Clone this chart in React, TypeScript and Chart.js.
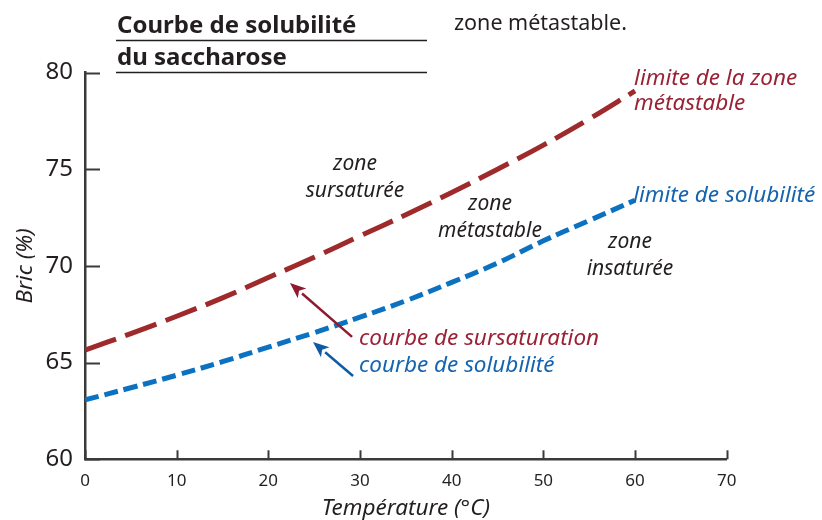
import { useEffect, useRef } from "react";
import { Chart, registerables } from "chart.js";

Chart.register(...registerables);

// ---- data ----
const temperatures = [0, 5, 10, 15, 20, 25, 30, 35, 40, 45, 50, 55, 60];
const sursaturation = [65.65, 66.5, 67.4, 68.35, 69.4, 70.45, 71.55, 72.65, 73.8, 75.0, 76.25, 77.6, 79.05];
const solubilite = [63.07, 63.7, 64.35, 65.05, 65.8, 66.55, 67.35, 68.2, 69.15, 70.15, 71.3, 72.35, 73.4];
const xTicks = [0, 10, 20, 30, 40, 50, 60, 70];
const yTicks = [60, 65, 70, 75, 80];

const RED = "#9e2a2b";
const BLUE = "#0b72c2";
const RED_TXT = "#9a2236";
const BLUE_TXT = "#1564b0";
const DARK = "#231f20";
const AXIS = "#3a3a3a";

const ZONE_FONT = "italic 21px 'Noto Sans'";
const LABEL_FONT = "italic 22.5px 'Noto Sans'";
const AXIS_TITLE_FONT = "italic 22.5px 'Noto Sans'";

// annotations (data coordinates)
const texts = [
  { t: "zone", x: 29.45, y: 74.97, align: "center", color: DARK, font: ZONE_FONT },
  { t: "sursaturée", x: 29.45, y: 73.57, align: "center", color: DARK, font: ZONE_FONT },
  { t: "zone", x: 44.18, y: 72.9, align: "center", color: DARK, font: ZONE_FONT },
  { t: "métastable", x: 44.18, y: 71.52, align: "center", color: DARK, font: ZONE_FONT },
  { t: "zone", x: 59.45, y: 70.93, align: "center", color: DARK, font: ZONE_FONT },
  { t: "insaturée", x: 59.45, y: 69.53, align: "center", color: DARK, font: ZONE_FONT },
  { t: "limite de la zone", x: 59.9, y: 79.36, align: "left", color: RED_TXT, font: LABEL_FONT },
  { t: "métastable", x: 59.9, y: 78.07, align: "left", color: RED_TXT, font: LABEL_FONT },
  { t: "limite de solubilité", x: 59.8, y: 73.33, align: "left", color: BLUE_TXT, font: LABEL_FONT },
  { t: "courbe de sursaturation", x: 29.9, y: 65.91, align: "left", color: RED_TXT, font: LABEL_FONT },
  { t: "courbe de solubilité", x: 29.9, y: 64.52, align: "left", color: BLUE_TXT, font: LABEL_FONT },
];

const arrows = [
  { x0: 29.13, y0: 66.33, x1: 22.36, y1: 69.12, color: "#8e1b30" },
  { x0: 29.24, y0: 64.31, x1: 24.87, y1: 66.07, color: "#0d5aa7" },
];

const overlay = {
  id: "overlay",
  afterDraw(chart: any) {
    const ctx = chart.ctx as CanvasRenderingContext2D;
    const xs = chart.scales.x;
    const ys = chart.scales.y;
    const { left, right, top, bottom } = chart.chartArea;
    ctx.save();

    // inward ticks
    ctx.strokeStyle = AXIS;
    ctx.lineWidth = 2;
    yTicks.forEach((v) => {
      const py = Math.round(ys.getPixelForValue(v)) + 0.5;
      ctx.beginPath();
      ctx.moveTo(left, py);
      ctx.lineTo(left + 15, py);
      ctx.stroke();
    });
    xTicks.forEach((v) => {
      const px = Math.round(xs.getPixelForValue(v)) + 0.5;
      ctx.beginPath();
      ctx.moveTo(px, bottom);
      ctx.lineTo(px, bottom - 9);
      ctx.stroke();
    });

    // title block
    ctx.fillStyle = DARK;
    ctx.textAlign = "left";
    ctx.textBaseline = "alphabetic";
    ctx.font = "bold 24px 'Noto Sans'";
    ctx.fillText("Courbe de solubilité", 117, 33);
    ctx.fillText("du saccharose", 117, 65);
    ctx.font = "21.5px 'Noto Sans'";
    ctx.fillText("zone métastable.", 454, 30);
    ctx.strokeStyle = DARK;
    ctx.lineWidth = 1.5;
    ctx.beginPath();
    ctx.moveTo(116, 40.5);
    ctx.lineTo(427, 40.5);
    ctx.moveTo(116, top);
    ctx.lineTo(427, top);
    ctx.stroke();

    // annotation texts
    texts.forEach((a) => {
      ctx.font = a.font;
      ctx.fillStyle = a.color;
      ctx.textAlign = a.align as CanvasTextAlign;
      ctx.fillText(a.t, xs.getPixelForValue(a.x), ys.getPixelForValue(a.y));
    });

    // arrows
    arrows.forEach((a) => {
      const x0 = xs.getPixelForValue(a.x0);
      const y0 = ys.getPixelForValue(a.y0);
      const x1 = xs.getPixelForValue(a.x1);
      const y1 = ys.getPixelForValue(a.y1);
      const ang = Math.atan2(y1 - y0, x1 - x0);
      const hl = 16;
      const hw = 6.5;
      const bx = x1 - hl * Math.cos(ang);
      const by = y1 - hl * Math.sin(ang);
      ctx.strokeStyle = a.color;
      ctx.fillStyle = a.color;
      ctx.lineWidth = 2.5;
      ctx.beginPath();
      ctx.moveTo(x0, y0);
      ctx.lineTo(bx, by);
      ctx.stroke();
      ctx.beginPath();
      ctx.moveTo(x1, y1);
      ctx.lineTo(bx + hw * Math.sin(ang), by - hw * Math.cos(ang));
      ctx.lineTo(x1 - (hl - 4) * Math.cos(ang), y1 - (hl - 4) * Math.sin(ang));
      ctx.lineTo(bx - hw * Math.sin(ang), by + hw * Math.cos(ang));
      ctx.closePath();
      ctx.fill();
    });

    // axis titles
    ctx.fillStyle = DARK;
    ctx.font = AXIS_TITLE_FONT;
    ctx.textAlign = "center";
    ctx.fillText("Température (°C)", (left + right) / 2, 515);
    ctx.save();
    ctx.translate(32, (top + bottom) / 2);
    ctx.rotate(-Math.PI / 2);
    ctx.fillText("Bric (%)", 0, 0);
    ctx.restore();

    ctx.restore();
  },
};

export default function App() {
  const ref = useRef<HTMLCanvasElement | null>(null);
  useEffect(() => {
    if (!ref.current) return;
    const chart = new Chart(ref.current, {
      type: "line",
      data: {
        datasets: [
          {
            label: "courbe de sursaturation",
            data: temperatures.map((t, i) => ({ x: t, y: sursaturation[i] })),
            borderColor: RED,
            borderWidth: 5,
            borderDash: [33, 10],
            borderCapStyle: "butt",
            pointRadius: 0,
            tension: 0.4,
          },
          {
            label: "courbe de solubilité",
            data: temperatures.map((t, i) => ({ x: t, y: solubilite[i] })),
            borderColor: BLUE,
            borderWidth: 5,
            borderDash: [14, 6],
            borderCapStyle: "butt",
            pointRadius: 0,
            tension: 0.4,
          },
        ],
      },
      options: {
        animation: false,
        responsive: false,
        layout: { padding: { top: 72.6, right: 95.3, left: 0, bottom: 0 } },
        plugins: { legend: { display: false }, tooltip: { enabled: false } },
        scales: {
          x: {
            type: "linear",
            min: 0,
            max: 70,
            afterBuildTicks: (s: any) => {
              s.ticks = xTicks.map((v) => ({ value: v }));
            },
            afterFit: (s: any) => {
              s.height = 60.7;
            },
            grid: { display: false, drawTicks: false },
            border: { display: true, color: AXIS, width: 2.5 },
            ticks: { font: { family: "Noto Sans", size: 17 }, color: DARK, padding: 12, maxRotation: 0 },
          },
          y: {
            type: "linear",
            min: 60,
            max: 80,
            afterBuildTicks: (s: any) => {
              s.ticks = yTicks.map((v) => ({ value: v }));
            },
            afterFit: (s: any) => {
              s.width = 85;
            },
            grid: { display: false, drawTicks: false },
            border: { display: true, color: AXIS, width: 2.5 },
            ticks: { font: { family: "Noto Sans", size: 24 }, color: DARK, padding: 12 },
          },
        },
      },
      plugins: [overlay],
    });
    return () => chart.destroy();
  }, []);
  return (
    <canvas
      ref={ref}
      width={822}
      height={520}
      style={{ position: "absolute", left: 0, top: 0, width: 822, height: 520 }}
    />
  );
}
